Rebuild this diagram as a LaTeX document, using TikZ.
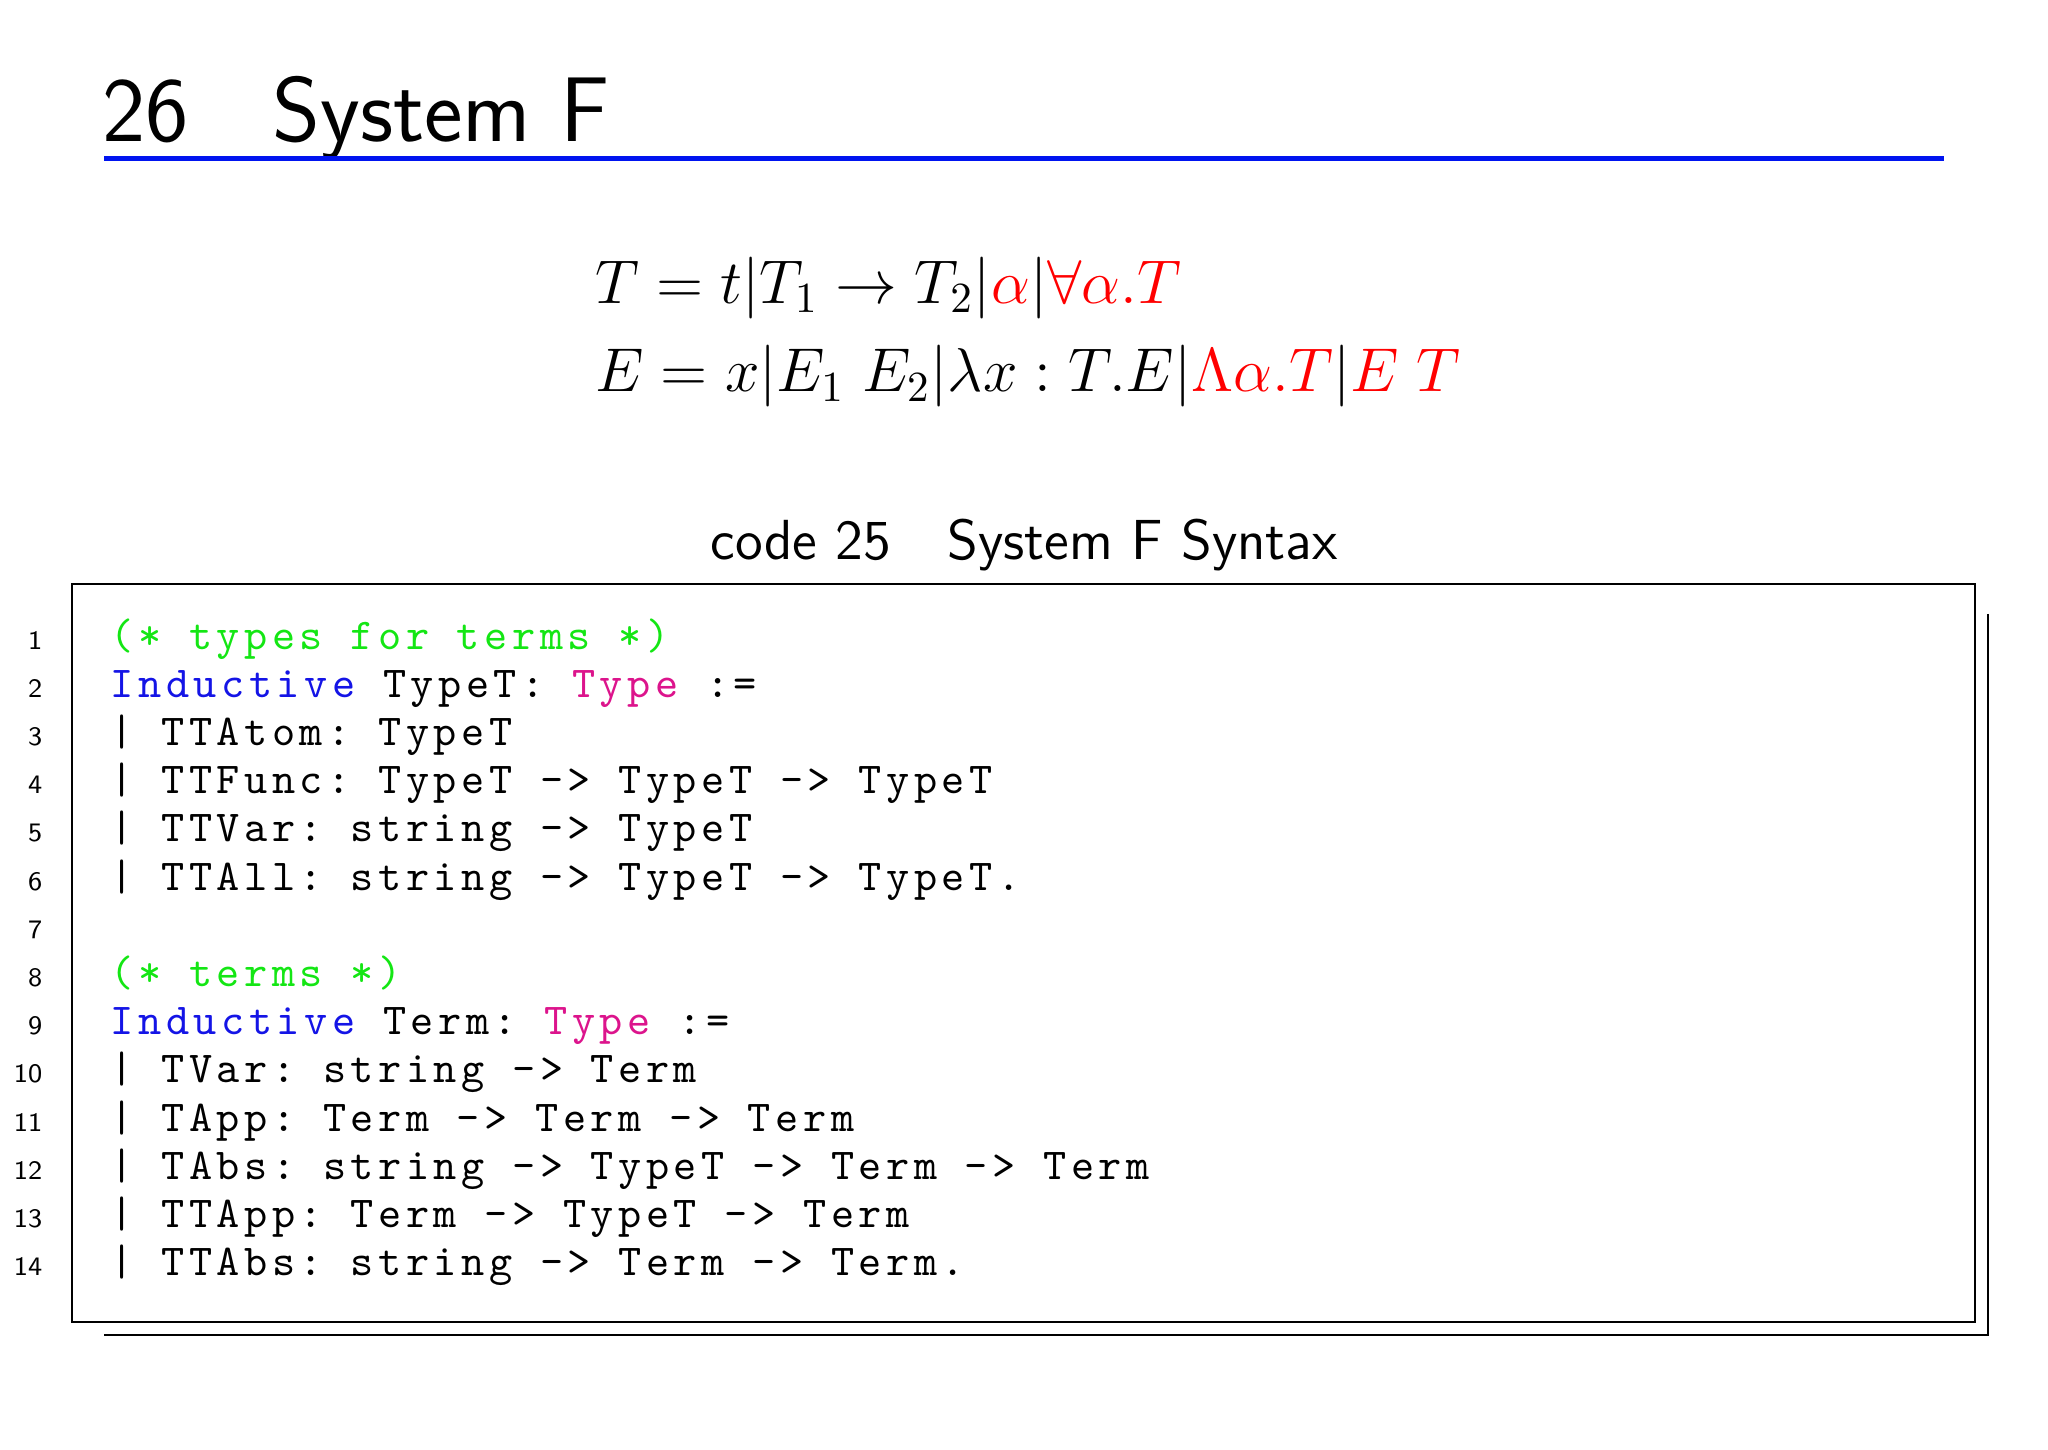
\documentclass[tikz,border=0pt]{standalone}
\usepackage{fontspec}
\setmonofont{Latin Modern Mono}[LetterSpace=10.3]
\definecolor{cgreen}{RGB}{20,230,20}
\definecolor{cblue}{RGB}{20,20,230}
\definecolor{cmag}{RGB}{220,20,140}
\definecolor{tblue}{RGB}{0,20,240}
\begin{document}
\begin{tikzpicture}[x=0.01cm,y=-0.01cm,
  code/.style={anchor=base west,inner sep=0,font=\fontsize{9.6pt}{11pt}\ttfamily},
  num/.style={anchor=base east,inner sep=0,font=\fontsize{5.8pt}{7pt}\sffamily},
  mathl/.style={anchor=base west,inner sep=0,scale=0.935,transform shape,font=\fontsize{14.4pt}{17pt}\selectfont}]
\useasboundingbox (0,0) rectangle (1568,1110);
\node[anchor=base west,inner sep=0,font=\fontsize{20pt}{24pt}\sffamily] (t1) at (78,108) {26};
\node[anchor=base west,inner sep=0,font=\fontsize{20pt}{24pt}\sffamily] (t2) at (208,108) {System F};
\draw[tblue,line width=1.1pt] (80,121) -- (1488,121);
\node[mathl] (m1) at (455,232) {$T=t|T_1\rightarrow T_2|\textcolor{red}{\alpha}|\textcolor{red}{\forall\alpha.T}$};
\node[mathl] (m2) at (455,300) {$E=x|E_1\;E_2|\lambda x:T.E|\textcolor{red}{\Lambda\alpha.T}|\textcolor{red}{E\;T}$};
\node[anchor=base,inner sep=0,font=\fontsize{12.3pt}{14pt}\sffamily] (cap) at (784,428) {code 25\quad System F Syntax};
\draw[line width=0.5pt] (55,447) rectangle (1512,1012);
\draw[line width=0.5pt] (1522,470) -- (1522,1022) -- (80,1022);
\foreach \i/\t in {
 1/{\color{cgreen}(* types for terms *)},
 2/{\color{cblue}Inductive} TypeT: {\color{cmag}Type} :=,
 3/| TTAtom: TypeT,
 4/| TTFunc: TypeT -> TypeT -> TypeT,
 5/| TTVar: string -> TypeT,
 6/| TTAll: string -> TypeT -> TypeT.,
 7/{},
 8/{\color{cgreen}(* terms *)},
 9/{\color{cblue}Inductive} Term: {\color{cmag}Type} :=,
 10/| TVar: string -> Term,
 11/| TApp: Term -> Term -> Term,
 12/| TAbs: string -> TypeT -> Term -> Term,
 13/| TTApp: Term -> TypeT -> Term,
 14/| TTAbs: string -> Term -> Term.}{
  \node[num] (n\i) at (33,{497+36.9*(\i-1)}) {\i};
  \node[code] (c\i) at (84,{497+36.9*(\i-1)}) {\t};
}
\end{tikzpicture}
\end{document}
